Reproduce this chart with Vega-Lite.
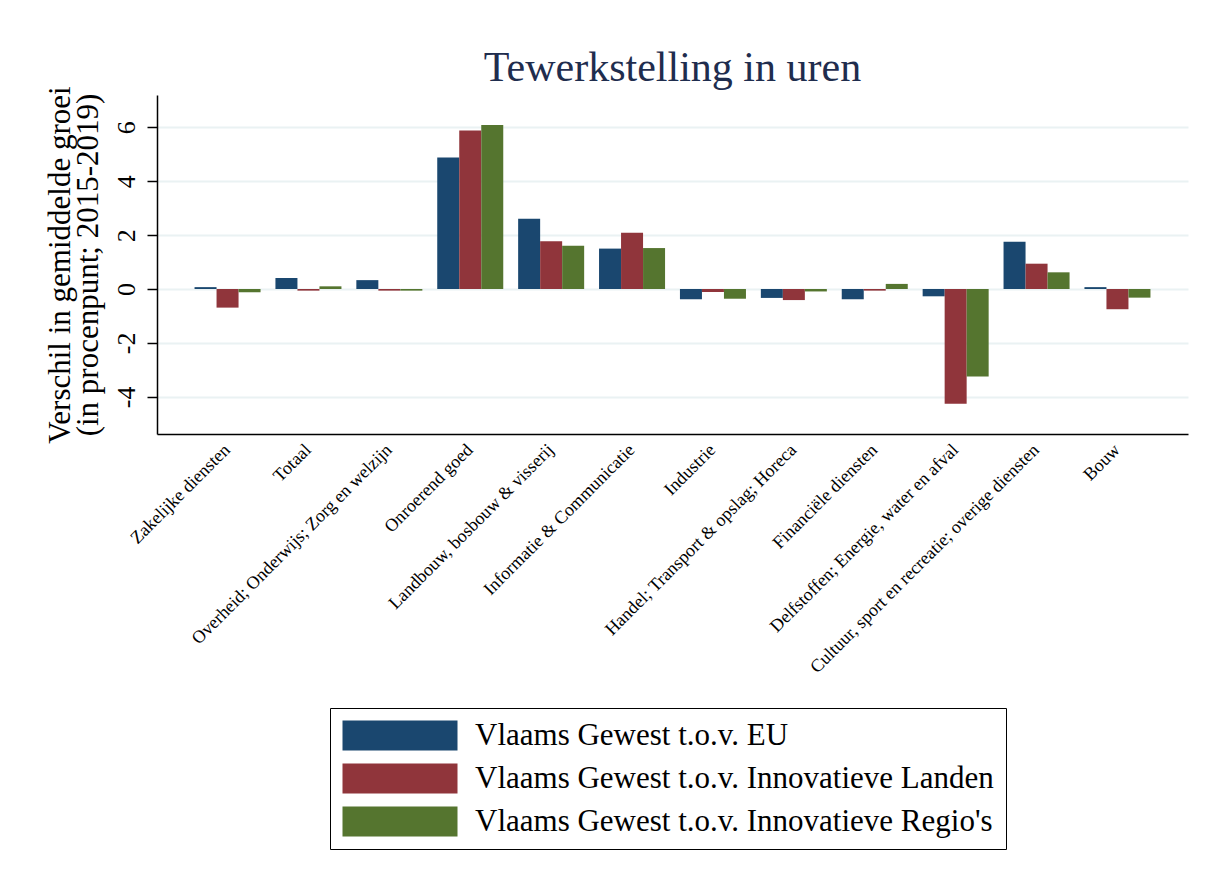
{
  "$schema": "https://vega.github.io/schema/vega-lite/v6.json",
  "width": 1031,
  "height": 339,
  "autosize": {"type": "none"},
  "padding": {"left": 157, "top": 95, "right": 26, "bottom": 450},
  "background": "white",
  "title": {
    "text": "Tewerkstelling in uren",
    "font": "Liberation Serif",
    "fontSize": 42,
    "fontWeight": "normal",
    "color": "#1f2d4e",
    "anchor": "middle",
    "offset": -4
  },
  "config": {
    "view": {"stroke": null},
    "axis": {"labelFont": "Liberation Serif", "titleFont": "Liberation Serif", "labelColor": "black", "titleColor": "black"}
  },
  "data": {
    "values": [
      {"sector": "Zakelijke diensten", "series": "Vlaams Gewest t.o.v. EU", "value": 0.07},
      {"sector": "Zakelijke diensten", "series": "Vlaams Gewest t.o.v. Innovatieve Landen", "value": -0.69},
      {"sector": "Zakelijke diensten", "series": "Vlaams Gewest t.o.v. Innovatieve Regio's", "value": -0.12},
      {"sector": "Totaal", "series": "Vlaams Gewest t.o.v. EU", "value": 0.41},
      {"sector": "Totaal", "series": "Vlaams Gewest t.o.v. Innovatieve Landen", "value": -0.06},
      {"sector": "Totaal", "series": "Vlaams Gewest t.o.v. Innovatieve Regio's", "value": 0.1},
      {"sector": "Overheid; Onderwijs; Zorg en welzijn", "series": "Vlaams Gewest t.o.v. EU", "value": 0.33},
      {"sector": "Overheid; Onderwijs; Zorg en welzijn", "series": "Vlaams Gewest t.o.v. Innovatieve Landen", "value": -0.06},
      {"sector": "Overheid; Onderwijs; Zorg en welzijn", "series": "Vlaams Gewest t.o.v. Innovatieve Regio's", "value": -0.06},
      {"sector": "Onroerend goed", "series": "Vlaams Gewest t.o.v. EU", "value": 4.88},
      {"sector": "Onroerend goed", "series": "Vlaams Gewest t.o.v. Innovatieve Landen", "value": 5.88},
      {"sector": "Onroerend goed", "series": "Vlaams Gewest t.o.v. Innovatieve Regio's", "value": 6.09},
      {"sector": "Landbouw, bosbouw & visserij", "series": "Vlaams Gewest t.o.v. EU", "value": 2.61},
      {"sector": "Landbouw, bosbouw & visserij", "series": "Vlaams Gewest t.o.v. Innovatieve Landen", "value": 1.77},
      {"sector": "Landbouw, bosbouw & visserij", "series": "Vlaams Gewest t.o.v. Innovatieve Regio's", "value": 1.61},
      {"sector": "Informatie & Communicatie", "series": "Vlaams Gewest t.o.v. EU", "value": 1.5},
      {"sector": "Informatie & Communicatie", "series": "Vlaams Gewest t.o.v. Innovatieve Landen", "value": 2.09},
      {"sector": "Informatie & Communicatie", "series": "Vlaams Gewest t.o.v. Innovatieve Regio's", "value": 1.52},
      {"sector": "Industrie", "series": "Vlaams Gewest t.o.v. EU", "value": -0.38},
      {"sector": "Industrie", "series": "Vlaams Gewest t.o.v. Innovatieve Landen", "value": -0.11},
      {"sector": "Industrie", "series": "Vlaams Gewest t.o.v. Innovatieve Regio's", "value": -0.36},
      {"sector": "Handel; Transport & opslag; Horeca", "series": "Vlaams Gewest t.o.v. EU", "value": -0.33},
      {"sector": "Handel; Transport & opslag; Horeca", "series": "Vlaams Gewest t.o.v. Innovatieve Landen", "value": -0.41},
      {"sector": "Handel; Transport & opslag; Horeca", "series": "Vlaams Gewest t.o.v. Innovatieve Regio's", "value": -0.09},
      {"sector": "Financiële diensten", "series": "Vlaams Gewest t.o.v. EU", "value": -0.38},
      {"sector": "Financiële diensten", "series": "Vlaams Gewest t.o.v. Innovatieve Landen", "value": -0.06},
      {"sector": "Financiële diensten", "series": "Vlaams Gewest t.o.v. Innovatieve Regio's", "value": 0.19},
      {"sector": "Delfstoffen; Energie, water en afval", "series": "Vlaams Gewest t.o.v. EU", "value": -0.27},
      {"sector": "Delfstoffen; Energie, water en afval", "series": "Vlaams Gewest t.o.v. Innovatieve Landen", "value": -4.26},
      {"sector": "Delfstoffen; Energie, water en afval", "series": "Vlaams Gewest t.o.v. Innovatieve Regio's", "value": -3.25},
      {"sector": "Cultuur, sport en recreatie; overige diensten", "series": "Vlaams Gewest t.o.v. EU", "value": 1.75},
      {"sector": "Cultuur, sport en recreatie; overige diensten", "series": "Vlaams Gewest t.o.v. Innovatieve Landen", "value": 0.94},
      {"sector": "Cultuur, sport en recreatie; overige diensten", "series": "Vlaams Gewest t.o.v. Innovatieve Regio's", "value": 0.62},
      {"sector": "Bouw", "series": "Vlaams Gewest t.o.v. EU", "value": 0.07},
      {"sector": "Bouw", "series": "Vlaams Gewest t.o.v. Innovatieve Landen", "value": -0.75},
      {"sector": "Bouw", "series": "Vlaams Gewest t.o.v. Innovatieve Regio's", "value": -0.32}
    ]
  },
  "mark": {"type": "bar"},
  "encoding": {
    "x": {
      "field": "sector",
      "type": "nominal",
      "sort": null,
      "scale": {"paddingInner": 0.184, "paddingOuter": 0.464},
      "axis": {
        "title": null,
        "labelFont": "Liberation Serif",
        "labelAngle": -45,
        "labelAlign": "right",
        "labelBaseline": "middle",
        "labelFontSize": 18,
        "labelLimit": 0,
        "labelPadding": 13,
        "ticks": false,
        "domainColor": "black",
        "domainWidth": 1.5,
        "grid": false
      }
    },
    "xOffset": {
      "field": "series",
      "type": "nominal",
      "sort": null
    },
    "y": {
      "field": "value",
      "type": "quantitative",
      "scale": {"domain": [-5.38, 7.2], "nice": false, "zero": false},
      "axis": {
        "values": [-4, -2, 0, 2, 4, 6],
        "labelExpr": "datum.value < 0 ? '-' + abs(datum.value) : '' + datum.value",
        "title": ["Verschil in gemiddelde groei", "(in procenpunt; 2015-2019)"],
        "titleFont": "Liberation Serif",
        "titleFontSize": 31,
        "titleFontWeight": "normal",
        "titleLineHeight": 28,
        "titlePadding": 9,
        "labelFont": "Liberation Serif",
        "labelAngle": -90,
        "labelAlign": "center",
        "labelBaseline": "bottom",
        "labelFontSize": 26,
        "labelPadding": 8,
        "tickSize": 10,
        "tickColor": "black",
        "tickWidth": 1.5,
        "domainColor": "black",
        "domainWidth": 1.5,
        "grid": true,
        "gridColor": "#eaf2f3",
        "gridWidth": 2
      }
    },
    "color": {
      "field": "series",
      "type": "nominal",
      "sort": null,
      "scale": {"range": ["#1a476f", "#90353b", "#55752f"]},
      "legend": {
        "title": null,
        "orient": "none",
        "legendX": 173,
        "legendY": 613,
        "direction": "vertical",
        "symbolType": "M-1,-1H6.667V1H-1Z",
        "symbolSize": 900,
        "symbolStrokeWidth": 0,
        "symbolOpacity": 1,
        "labelFont": "Liberation Serif",
        "labelFontSize": 31,
        "labelColor": "black",
        "labelLimit": 0,
        "labelOffset": 102,
        "rowPadding": 11,
        "padding": 12,
        "strokeColor": "black",
        "fillColor": "white"
      }
    }
  }
}
